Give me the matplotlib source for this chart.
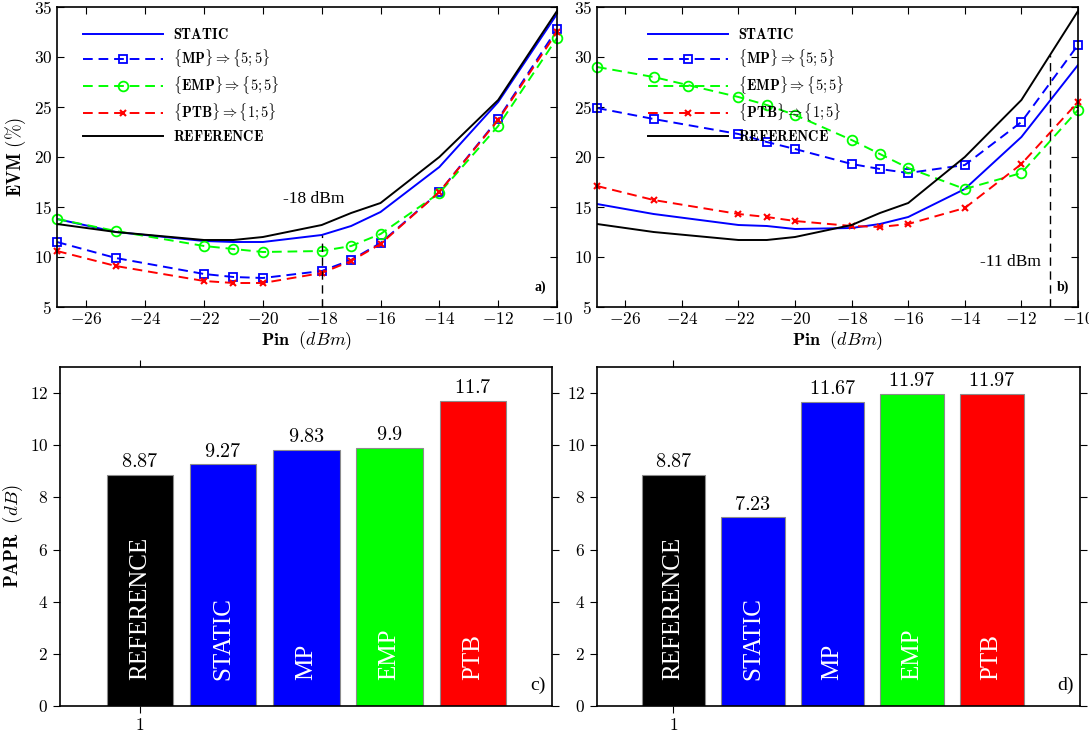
import numpy as np
import matplotlib
matplotlib.use("Agg")
import matplotlib.pyplot as plt
from matplotlib.ticker import FuncFormatter

plt.rcParams['mathtext.fontset'] = 'cm'
plt.rcParams['font.family'] = 'Liberation Serif'

# EVM vs input power, panels a) and b)
pin = [-27, -25, -22, -21, -20, -18, -17, -16, -14, -12, -10]
evm_ref = [13.3, 12.5, 11.7, 11.7, 12.0, 13.2, 14.4, 15.4, 20.0, 25.7, 34.6]

a_static = [13.8, 12.5, 11.6, 11.5, 11.5, 12.2, 13.1, 14.5, 19.0, 25.5, 34.3]
a_mp = [11.5, 9.9, 8.3, 8.0, 7.9, 8.6, 9.7, 11.4, 16.5, 23.8, 32.8]
a_emp = [13.8, 12.6, 11.1, 10.8, 10.5, 10.6, 11.1, 12.3, 16.4, 23.1, 31.9]
a_ptb = [10.6, 9.1, 7.6, 7.4, 7.4, 8.4, 9.6, 11.3, 16.5, 23.7, 32.5]

b_static = [15.3, 14.3, 13.2, 13.1, 12.8, 12.9, 13.3, 14.0, 16.8, 22.0, 29.2]
b_mp = [24.9, 23.8, 22.3, 21.5, 20.8, 19.3, 18.8, 18.4, 19.2, 23.5, 31.2]
b_emp = [29.0, 28.0, 26.0, 25.2, 24.2, 21.7, 20.3, 18.9, 16.8, 18.4, 24.7]
b_ptb = [17.1, 15.7, 14.3, 14.0, 13.6, 13.1, 13.0, 13.3, 14.9, 19.3, 25.5]

# operating points marked with a dashed line
cut_a, cut_a_top = -18, 12.2
cut_b, cut_b_top = -11, 30.2

# PAPR bars, panels c) and d)
papr_names = ['REFERENCE', 'STATIC', 'MP', 'EMP', 'PTB']
papr_c = [8.87, 9.27, 9.83, 9.9, 11.7]
papr_d = [8.87, 7.23, 11.67, 11.97, 11.97]
bar_colors = ['black', 'blue', 'blue', '#00ff00', 'red']

leg_labels = [r'$\mathbf{STATIC}$',
              r'$\mathbf{\{MP\}} \Rightarrow \mathbf{\{5;5\}}$',
              r'$\mathbf{\{EMP\}} \Rightarrow \mathbf{\{5;5\}}$',
              r'$\mathbf{\{PTB\}} \Rightarrow \mathbf{\{1;5\}}$',
              r'$\mathbf{REFERENCE}$']

mathfmt = FuncFormatter(lambda v, p: r'$%g$' % v)
dash = (0, (5, 3))

fig = plt.figure(figsize=(10.89, 7.36), dpi=100)
W, H = 1089.0, 736.0
def rect(l, t, r, b):
    return [l / W, 1 - b / H, (r - l) / W, (b - t) / H]

ax_a = fig.add_axes(rect(57, 7, 557, 307))
ax_b = fig.add_axes(rect(597, 7, 1078, 307))
ax_c = fig.add_axes(rect(60, 367, 552, 706))
ax_d = fig.add_axes(rect(597, 367, 1080, 706))


def evm_panel(ax, static, mp, emp, ptb, cut, cut_top, cut_txt, txt_xy, tag, leg_x):
    lw = 1.4
    ax.plot(pin, static, color='blue', lw=lw, label=leg_labels[0])
    ax.plot(pin, mp, color='blue', lw=lw, ls=dash, marker='s', ms=5.5,
            mfc='none', mew=1.3, clip_on=False, label=leg_labels[1])
    ax.plot(pin, emp, color='#00ff00', lw=lw, ls=dash, marker='o', ms=7,
            mfc='none', mew=1.3, clip_on=False, label=leg_labels[2])
    ax.plot(pin, ptb, color='red', lw=lw, ls=dash, marker='x', ms=5,
            mew=1.5, clip_on=False, label=leg_labels[3])
    ax.plot(pin, evm_ref, color='black', lw=lw, label=leg_labels[4])
    ax.plot([cut, cut], [5, cut_top], color='black', lw=1.0, ls=(0, (6, 4)))
    ax.text(txt_xy[0], txt_xy[1], cut_txt, fontsize=12.5, ha='left', va='center')
    ax.text(-10.75, 7.0, tag, fontsize=10, fontweight='bold', ha='left', va='center')
    ax.set_xlim(-27, -10)
    ax.set_ylim(5, 35)
    ax.set_xticks(np.arange(-26, -9, 2))
    ax.set_yticks(np.arange(5, 36, 5))
    ax.xaxis.set_major_formatter(mathfmt)
    ax.yaxis.set_major_formatter(mathfmt)
    ax.tick_params(direction='in', top=True, right=True, length=5, labelsize=12.5)
    ax.set_xlabel(r'$\mathbf{Pin}\ \ (dBm)$', fontsize=13, labelpad=1)
    ax.legend(loc='upper left', bbox_to_anchor=(leg_x, 0.932), frameon=False,
              fontsize=10.3, handlelength=5.6, handletextpad=0.7,
              labelspacing=0.4, numpoints=1, borderaxespad=0, borderpad=0)
    for sp in ax.spines.values():
        sp.set_linewidth(1.2)


evm_panel(ax_a, a_static, a_mp, a_emp, a_ptb, cut_a, cut_a_top, '-18 dBm',
          (-19.3, 15.8), 'a)', 0.052)
evm_panel(ax_b, b_static, b_mp, b_emp, b_ptb, cut_b, cut_b_top, '-11 dBm',
          (-13.45, 9.5), 'b)', 0.105)
ax_a.set_ylabel(r'$\mathbf{EVM\ (\%)}$', fontsize=13.5, labelpad=4)


def papr_panel(ax, vals, xmax, tag):
    pos = np.arange(1, len(vals) + 1)
    ax.bar(pos, vals, width=0.8, color=bar_colors, edgecolor='0.55', linewidth=0.8)
    for x, v, name in zip(pos, vals, papr_names):
        ax.text(x, v + 0.1, r'$%g$' % v, fontsize=14.5, ha='center', va='bottom')
        ax.text(x, 1.0, name, fontsize=18, color='white', rotation=90,
                ha='center', va='bottom')
    ax.text(xmax - 0.08, 0.8, tag, fontsize=14, ha='right', va='center')
    ax.set_xlim(0.04, xmax)
    ax.set_ylim(0, 13)
    ax.set_xticks([1])
    ax.set_yticks(np.arange(0, 13, 2))
    ax.xaxis.set_major_formatter(mathfmt)
    ax.yaxis.set_major_formatter(mathfmt)
    ax.tick_params(direction='out', top=True, right=True, length=5, labelsize=12.5)
    for sp in ax.spines.values():
        sp.set_linewidth(1.2)


papr_panel(ax_c, papr_c, 5.95, 'c)')
papr_panel(ax_d, papr_d, 6.11, 'd)')
ax_c.set_ylabel(r'$\mathbf{PAPR}\ \ (dB)$', fontsize=13.5, labelpad=3)

fig.savefig('out.png', dpi=100)
